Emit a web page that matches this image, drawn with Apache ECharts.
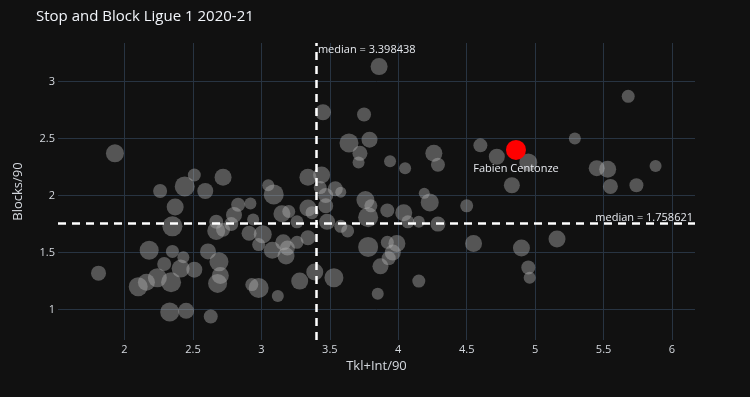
<!DOCTYPE html>
<html>
<head>
<meta charset="utf-8">
<script src="https://cdn.jsdelivr.net/npm/echarts@6/dist/echarts.min.js"></script>
<style>
  html, body { margin: 0; padding: 0; background: #111111; }
  #chart { width: 750px; height: 397px; }
</style>
</head>
<body>
<div id="chart"></div>
<script>
// Tkl+Int/90 per player
var tklInt = [1.81, 1.93, 2.10, 2.16, 2.24, 2.18, 2.26, 2.29, 2.33, 2.34, 2.35, 2.35, 2.37, 2.41, 2.43, 2.44,
  2.45, 2.51, 2.51, 2.59, 2.61, 2.63, 2.67, 2.67, 2.69, 2.70, 2.68, 2.72, 2.72, 2.78, 2.80, 2.83,
  2.91, 2.92, 2.93, 2.94, 2.98, 3.01, 2.98, 3.05, 3.09, 3.08, 3.12, 3.15, 3.20, 3.16, 3.18, 3.19,
  3.26, 3.26, 3.28, 3.34, 3.34, 3.34, 3.37, 3.39, 3.43, 3.44, 3.45, 3.47, 3.47, 3.48, 3.53, 3.54,
  3.58, 3.58, 3.63, 3.64, 3.72, 3.71, 3.75, 3.76, 3.79, 3.80, 3.78, 3.78, 3.85, 3.86, 3.87, 3.92,
  3.92, 3.93, 3.94, 3.96, 3.99, 4.04, 4.05, 4.07, 4.15, 4.15, 4.19, 4.23, 4.26, 4.29, 4.29, 4.50,
  4.55, 4.60, 4.72, 4.95, 4.83, 4.90, 4.95, 4.96, 5.16, 5.29, 5.45, 5.53, 5.55, 5.74, 5.88, 5.68];
// Blocks/90 per player
var blocks = [1.32, 2.37, 1.20, 1.24, 1.28, 1.52, 2.04, 1.40, 0.98, 1.24, 1.73, 1.51, 1.90, 1.36, 1.46, 2.08,
  0.99, 1.35, 2.18, 2.04, 1.51, 0.94, 1.69, 1.77, 1.42, 1.30, 1.23, 1.70, 2.16, 1.75, 1.83, 1.92,
  1.67, 1.93, 1.22, 1.79, 1.19, 1.66, 1.57, 2.09, 2.01, 1.52, 1.12, 1.84, 1.86, 1.59, 1.47, 1.54,
  1.59, 1.77, 1.25, 2.16, 1.89, 1.63, 1.85, 1.33, 2.07, 2.18, 2.73, 2.00, 1.91, 1.77, 1.28, 2.06,
  2.03, 1.73, 1.69, 2.46, 2.37, 2.29, 2.71, 1.96, 2.49, 1.91, 1.81, 1.55, 1.14, 3.13, 1.38, 1.59,
  1.87, 1.45, 2.30, 1.50, 1.58, 1.85, 2.24, 1.77, 1.25, 1.77, 2.02, 1.94, 2.37, 2.27, 1.75, 1.91,
  1.58, 2.44, 2.34, 2.29, 2.09, 1.54, 1.37, 1.28, 1.62, 2.50, 2.24, 2.23, 2.08, 2.09, 2.26, 2.87];
// bubble size variable
var bubbleSize = [15, 18, 19, 17, 19, 19, 14, 14, 19, 20, 20, 13, 17, 18, 12, 20,
  16, 16, 13, 16, 16, 14, 18, 14, 19, 17, 19, 14, 17, 14, 16, 14,
  15, 12, 13, 12, 20, 18, 13, 12, 20, 17, 12, 17, 13, 16, 17, 15,
  13, 13, 17, 17, 17, 15, 13, 17, 13, 17, 16, 15, 15, 16, 19, 15,
  11, 13, 13, 19, 15, 12, 14, 18, 16, 13, 20, 20, 12, 17, 16, 13,
  14, 14, 12, 16, 17, 17, 12, 13, 13, 12, 11, 18, 17, 14, 15, 13,
  17, 14, 16, 18, 16, 17, 14, 12, 17, 12, 16, 17, 15, 14, 12, 13];

var playerName = 'Fabien Centonze';
var playerTklInt = 4.86;
var playerBlocks = 2.40;
var playerSize = 20;

var xMedian = 3.398438;
var yMedian = 1.758621;
var xRange = [1.514, 6.168];
var yRange = [0.734, 3.337];

var gridColor = '#283442';
var textColor = '#d4d8de';

var points = [];
for (var i = 0; i < tklInt.length; i++) {
  points.push([tklInt[i], blocks[i], bubbleSize[i]]);
}

var chart = echarts.init(document.getElementById('chart'), null, {renderer: 'canvas'});

chart.setOption({
  backgroundColor: '#111111',
  animation: false,
  textStyle: {fontFamily: 'Open Sans'},
  title: {
    text: 'Stop and Block Ligue 1 2020-21',
    left: 31,
    top: 4,
    textStyle: {color: '#f2f5fa', fontSize: 15, fontWeight: 'normal', fontFamily: 'Open Sans'}
  },
  grid: {left: 58, right: 55, top: 43, bottom: 57},
  xAxis: {
    type: 'value',
    min: xRange[0],
    max: xRange[1],
    splitNumber: 10,
    minInterval: 0.5,
    maxInterval: 0.5,
    name: 'Tkl+Int/90',
    nameLocation: 'middle',
    nameGap: 20,
    nameTextStyle: {color: textColor, fontSize: 13},
    axisLine: {show: false},
    axisTick: {show: false},
    axisLabel: {color: textColor, fontSize: 11, margin: 4, showMinLabel: false, showMaxLabel: false},
    splitLine: {show: true, showMinLine: false, showMaxLine: false, lineStyle: {color: gridColor, width: 1}}
  },
  yAxis: {
    type: 'value',
    min: yRange[0],
    max: yRange[1],
    splitNumber: 6,
    minInterval: 0.5,
    maxInterval: 0.5,
    name: 'Blocks/90',
    nameLocation: 'middle',
    nameGap: 33,
    nameTextStyle: {color: textColor, fontSize: 13},
    axisLine: {show: false},
    axisTick: {show: false},
    axisLabel: {color: textColor, fontSize: 11, margin: 3, showMinLabel: false, showMaxLabel: false},
    splitLine: {show: true, showMinLine: false, showMaxLine: false, lineStyle: {color: gridColor, width: 1}}
  },
  series: [
    {
      type: 'scatter',
      data: points,
      symbolSize: function (v) { return v[2]; },
      itemStyle: {color: 'rgba(180,180,180,0.42)', opacity: 1},
      z: 2,
      markLine: {
        silent: true,
        symbol: 'none',
        label: {show: false},
        lineStyle: {color: '#ffffff', type: [8, 6], width: 2.5, opacity: 1},
        data: [{xAxis: xMedian}, {yAxis: yMedian}]
      }
    },
    {
      type: 'scatter',
      data: [[playerTklInt, playerBlocks, playerSize]],
      symbolSize: function (v) { return v[2]; },
      itemStyle: {color: '#ff0000', opacity: 1},
      z: 4,
      label: {
        show: true,
        position: 'bottom',
        distance: 3,
        formatter: playerName,
        color: '#e6e9ee',
        fontSize: 11
      }
    }
  ]
});

// median annotations
var topPt = chart.convertToPixel({gridIndex: 0}, [xMedian, yRange[1]]);
var rightPt = chart.convertToPixel({gridIndex: 0}, [xRange[1], yMedian]);
chart.setOption({
  graphic: [
    {
      type: 'text',
      x: topPt[0] + 2,
      y: topPt[1] + 1,
      z: 10,
      style: {text: 'median = ' + xMedian, fill: '#e6e9ee', fontSize: 11, fontFamily: 'Open Sans', align: 'left', verticalAlign: 'top'}
    },
    {
      type: 'text',
      x: rightPt[0] - 2,
      y: rightPt[1],
      z: 10,
      style: {text: 'median = ' + yMedian, fill: '#e6e9ee', fontSize: 11, fontFamily: 'Open Sans', align: 'right', verticalAlign: 'bottom'}
    }
  ]
});
</script>
</body>
</html>
